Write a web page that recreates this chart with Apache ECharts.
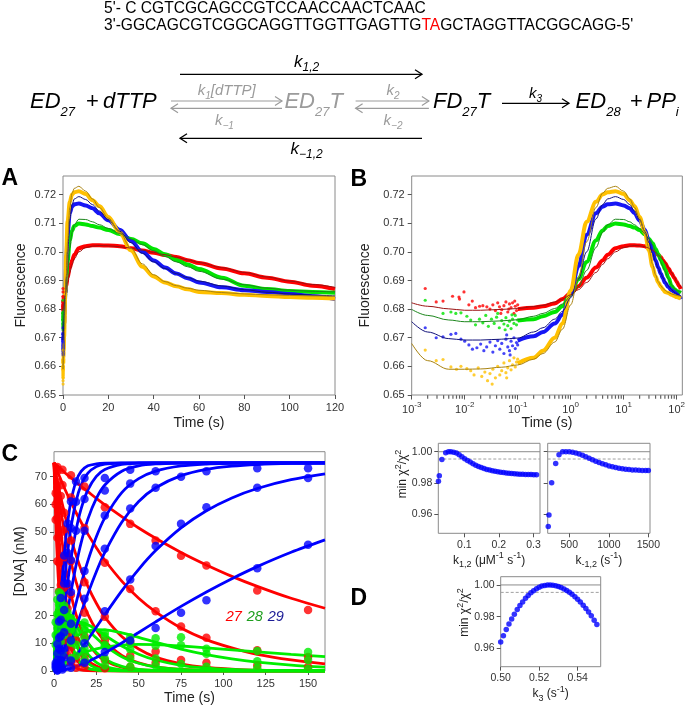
<!DOCTYPE html>
<html><head><meta charset="utf-8">
<script src="https://cdn.jsdelivr.net/npm/echarts@6/dist/echarts.min.js"></script>
<style>html,body{margin:0;padding:0;background:#fff}#c{width:688px;height:708px}</style>
</head><body><div id="c"></div>
<script>
// ---------------- Panel A / B data (fluorescence) ----------------
const flTime = [0.1,0.2,0.3,0.5,0.7,1,1.4,2,3,4,5,7,10,13,16,20,25,30,35,40,45,50,55,60,70,80,90,100,110,120];
const flRed    = [.680,.6805,.681,.682,.6835,.6855,.688,.691,.6945,.697,.699,.7013,.702,.7023,.7023,.7022,.702,.7013,.7005,.6997,.6989,.6982,.6971,.6961,.6942,.6925,.691,.6896,.6882,.687];
const flGreen  = [.676,.6765,.6775,.679,.681,.6855,.6905,.6965,.704,.7075,.709,.7099,.7096,.709,.7085,.7076,.7062,.7045,.703,.701,.6992,.6972,.6956,.694,.691,.6882,.687,.6863,.686,.6857];
const flBlue   = [.669,.6705,.672,.675,.678,.6855,.695,.706,.7135,.7158,.7166,.7169,.7162,.7152,.7135,.711,.7077,.7038,.700,.697,.6945,.6924,.6908,.6893,.6876,.6866,.686,.6853,.6845,.6835];
const flYellow = [.661,.663,.6655,.670,.675,.6865,.699,.7105,.7175,.720,.7208,.7212,.7202,.718,.716,.7122,.7068,.7005,.6948,.6914,.6893,.688,.6869,.686,.6856,.685,.6846,.6842,.684,.6837];

const fitTime = [0.001,0.002,0.005,0.01,0.02,0.05,0.1,0.2,0.3,0.5,0.7,1,1.4,2,3,4,5,7,10,13,16,20,25,30,35,40,45,50,55,60,70,80,90,100,110,120];
const fitRed    = [.6822,.681,.6801,.6796,.6796,.6799,.6802,.6809,.6813,.6825,.6835,.685,.6868,.6893,.6928,.6956,.6976,.700,.7015,.702,.7022,.7021,.7018,.7013,.7006,.6998,.699,.6981,.6972,.6963,.6945,.6928,.6912,.6898,.6886,.6876];
const fitGreen  = [.6799,.6778,.6762,.6756,.6756,.6759,.6763,.6775,.6785,.6802,.6818,.6845,.6878,.6935,.7015,.7068,.7095,.7114,.7113,.7105,.7095,.7082,.7064,.7045,.7025,.7004,.6984,.6965,.6948,.6932,.6905,.6885,.6873,.6866,.6862,.686];
const fitBlue   = [.6756,.672,.6697,.6692,.6692,.6695,.6699,.672,.6735,.6765,.6792,.684,.6905,.700,.7115,.7165,.7185,.7193,.7183,.7165,.7143,.7112,.7072,.7032,.6995,.6965,.6942,.6924,.691,.6898,.6881,.6868,.6859,.6853,.6849,.6846];
const fitYellow = [.668,.662,.659,.659,.6591,.6597,.6605,.6625,.6645,.6685,.673,.6815,.691,.7035,.7155,.7205,.7222,.7229,.7212,.7185,.7155,.7118,.7068,.7012,.6958,.692,.6896,.6882,.6873,.6866,.6858,.6853,.6850,.6848,.6846,.6845];

// early (t < 0.1 s) noisy readings [time, fluorescence]
const earlyRed = [[0.0018,.6872],[0.0029,.6825],[0.0039,.6828],[0.0059,.6845],[0.0078,.6842],[0.008,.6835],[0.0097,.686],[0.012,.6815],[0.0139,.6828],[0.016,.6805],[0.0191,.681],[0.022,.6812],[0.0262,.6808],[0.03,.68],[0.034,.6815],[0.038,.6795],[0.042,.6822],[0.0454,.6808],[0.048,.6785],[0.05,.6798],[0.055,.6812],[0.06,.6825],[0.065,.679],[0.068,.68],[0.07,.6818],[0.075,.6805],[0.08,.6822],[0.085,.6785],[0.088,.6828],[0.09,.681],[0.095,.6795],[0.1,.6815]];
const earlyGreen = [[0.0018,.6831],[0.0039,.6785],[0.0055,.679],[0.0068,.6785],[0.0085,.6787],[0.011,.6775],[0.013,.6762],[0.016,.6745],[0.019,.6765],[0.022,.6752],[0.025,.6778],[0.028,.674],[0.032,.6765],[0.036,.675],[0.04,.6772],[0.042,.6785],[0.045,.6735],[0.05,.676],[0.055,.6748],[0.058,.6728],[0.06,.677],[0.065,.6742],[0.07,.6758],[0.075,.6732],[0.078,.678],[0.08,.6765],[0.085,.675],[0.09,.6778],[0.095,.6745],[0.1,.6762]];
const earlyBlue = [[0.0018,.6735],[0.0029,.67],[0.0039,.6703],[0.0055,.6712],[0.0068,.6715],[0.0085,.6695],[0.01,.6688],[0.012,.6675],[0.014,.666],[0.017,.6665],[0.02,.6678],[0.023,.6655],[0.026,.6668],[0.03,.6685],[0.034,.665],[0.038,.6672],[0.042,.669],[0.046,.666],[0.05,.668],[0.055,.6645],[0.06,.6695],[0.062,.671],[0.065,.6668],[0.07,.6655],[0.072,.664],[0.075,.6688],[0.08,.6672],[0.085,.67],[0.09,.6662],[0.095,.6683],[0.1,.6675]];
const earlyYellow = [[0.0018,.6657],[0.0029,.662],[0.0039,.6624],[0.0055,.6598],[0.007,.659],[0.0085,.66],[0.011,.6592],[0.013,.6585],[0.015,.657],[0.018,.6595],[0.021,.6565],[0.024,.658],[0.027,.655],[0.03,.6575],[0.033,.6538],[0.034,.659],[0.038,.656],[0.042,.66],[0.046,.657],[0.05,.6585],[0.055,.6612],[0.06,.6578],[0.062,.656],[0.065,.6595],[0.07,.662],[0.075,.6588],[0.08,.6605],[0.085,.663],[0.09,.6598],[0.095,.6615],[0.1,.6625]];

const flTicks = [0.65,0.66,0.67,0.68,0.69,0.70,0.71,0.72];
const aTimeTicks = [0,20,40,60,80,100,120];
const bTimeTicks = [0.001,0.01,0.1,1,10,100];
const bTimeExp = ['-3','-2','-1','0','1','2'];
const bMinorTicks = [0.002,0.003,0.004,0.005,0.006,0.007,0.008,0.009,0.02,0.03,0.04,0.05,0.06,0.07,0.08,0.09,0.2,0.3,0.4,0.5,0.6,0.7,0.8,0.9,2,3,4,5,6,7,8,9,20,30,40,50,60,70,80,90];

// ---------------- Panel C data ([DNA] nM) ----------------
const cTime = [0,1,2,3,4,6,8,10,13,16,20,25,30,40,50,60,75,90,105,120,140,160];
const fit27 = [
 [75,74.4,73.9,73.3,72.8,71.7,70.6,69.6,68.0,66.5,64.6,62.2,59.9,55.6,51.5,47.8,42.7,38.2,34.1,30.5,26.2,22.6],
 [75,73.4,71.9,70.4,69.0,66.1,63.4,60.8,57.1,53.6,49.3,44.4,39.9,32.4,26.2,21.3,15.5,11.3,8.3,6.0,4.0,2.6],
 [75,71.7,68.5,65.5,62.6,57.3,52.3,47.8,41.8,36.5,30.5,24.4,19.4,12.4,7.9,5.0,2.6,1.3,0.7,0.3,0.1,0.1],
 [75,70.3,65.9,61.7,57.8,50.8,44.6,39.2,32.2,26.5,20.4,14.8,10.7,5.6,2.9,1.5,0.6,0.2,0.1,0,0,0],
 [75,67.9,61.4,55.6,50.3,41.2,33.7,27.6,20.4,15.1,10.1,6.2,3.7,1.4,0.5,0.2,0,0,0,0,0,0],
 [75,64.6,55.6,47.8,41.2,30.5,22.6,16.7,10.7,6.8,3.7,1.8,0.8,0.2,0,0,0,0,0,0,0,0],
 [75,60.2,48.3,38.8,31.1,20.0,12.9,8.3,4.3,2.2,0.9,0.3,0.1,0,0,0,0,0,0,0,0,0],
 [75,54.5,39.5,28.7,20.9,11.0,5.8,3.1,1.2,0.4,0.1,0,0,0,0,0,0,0,0,0,0,0]];
const fit28 = [
 [0,0.55,1.07,1.57,2.05,2.93,3.73,4.46,5.41,6.22,7.12,7.98,8.61,9.33,9.56,9.47,9.00,8.34,7.62,6.90,5.99,5.18],
 [0,1.51,2.91,4.18,5.36,7.43,9.15,10.57,12.22,13.39,14.37,14.88,14.83,13.77,12.12,10.35,7.91,5.92,4.38,3.22,2.13,1.40],
 [0,3.14,5.84,8.15,10.12,13.17,15.24,16.55,17.46,17.48,16.65,14.89,12.85,9.02,6.06,3.97,2.06,1.06,0.55,0.28,0.11,0.04],
 [0,4.42,8.03,10.94,13.24,16.40,18.08,18.71,18.38,17.14,14.87,11.86,9.15,5.16,2.80,1.48,0.56,0.22,0.08,0.03,0.01,0],
 [0,6.52,11.34,14.82,17.20,19.61,19.91,18.99,16.52,13.67,10.13,6.66,4.25,1.65,0.62,0.23,0.06,0.01,0,0,0,0],
 [0,9.35,15.56,19.40,21.54,22.42,20.76,18.05,13.66,9.82,6.03,3.12,1.56,0.37,0.10,0.02,0,0,0,0,0,0],
 [0,12.95,20.42,24.13,25.29,23.51,19.43,15.06,9.61,5.78,2.81,1.07,0.41,0.08,0,0,0,0,0,0,0,0],
 [0,17.64,25.80,28.44,27.84,22.44,16.08,10.80,5.52,2.64,0.96,0.36,0.12,0,0,0,0,0,0,0,0,0]];
const fit29 = [
 [0,0.01,0.05,0.09,0.17,0.37,0.64,0.96,1.56,2.26,3.33,4.85,6.50,10.11,13.89,17.71,23.27,28.47,33.26,37.61,42.77,47.23],
 [0,0.05,0.17,0.40,0.69,1.45,2.45,3.63,5.70,8.02,11.36,15.75,20.23,28.85,36.64,43.37,51.57,57.75,62.35,65.74,68.90,71.00],
 [0,0.16,0.62,1.32,2.23,4.58,7.43,10.63,15.76,21.01,27.86,35.76,42.71,53.58,61.04,65.99,70.38,72.64,73.78,74.38,74.76,74.91],
 [0,0.30,1.11,2.36,3.93,7.82,12.33,17.14,24.40,31.35,39.69,48.37,55.17,64.27,69.29,72.00,73.86,74.57,74.83,74.94,74.98,75.00],
 [0,0.62,2.26,4.62,7.53,14.23,21.39,28.42,38.04,46.19,54.72,62.18,67.02,71.98,73.88,74.58,74.90,74.99,75,75,75,75],
 [0,1.10,3.88,7.78,12.30,22.09,31.65,40.22,50.67,58.38,65.24,70.12,72.61,74.44,74.86,74.97,75,75,75,75,75,75],
 [0,1.86,6.28,12.10,18.60,31.46,42.67,51.63,61.09,67.00,71.27,73.62,74.49,74.91,75,75,75,75,75,75,75,75],
 [0,2.90,9.65,17.84,26.31,41.57,53.12,61.14,68.31,71.91,73.91,74.62,74.88,75,75,75,75,75,75,75,75,75]];
const dotTime = [
 [2,5,10,18,30,45,60,75,90,120,150],
 [2,5,10,18,30,45,60,75,90,120,150],
 [2,4,6,10,18,30,45,60,75,90,120,150],
 [2,4,6,10,18,30,45,60],
 [2,4,6,10,18,30,45],
 [1,2,3,4,6,8,10,13,18,30],
 [1,2,3,4,6,8,10,13,18],
 [1,2,3,4,6,8,10,13]];
const dot27 = [
 [73.5,72.5,70.5,66.5,59,53,47,41.5,38,29,22],
 [72,67,62.5,51.5,39,29.5,21.5,16,12,7.5,5],
 [68,63,57,47,32,19.5,10.5,7,4,3,2,1.5],
 [66,58,51,39.5,21,11,5.5,3],
 [61,50,41,27.5,12.5,4,1.5],
 [64,55,48,41,30,22.5,17,11,5,1],
 [60,48,39,31,20,13,8.5,4.5,1.5],
 [54.5,39.5,28.7,20.9,11,5.8,3.1,1.2]];
const dot28 = [
 [1.0,2.6,4.6,6.5,8.9,9.8,9.1,9.3,8.0,7.2,6.8],
 [2.8,6.5,10.2,14.5,13.8,12.2,11.8,12.2,6.2,3.5,4.0],
 [5.5,10.5,13,16,17.5,12.5,7.8,4.5,2.5,1.5,1,0.8],
 [8,13.5,16.5,19,16,9.5,4.5,2],
 [11.5,17,20,19,12,4.5,1.5],
 [9.5,15.5,19.5,21.5,22.5,21,18,14,8,2],
 [13,20.5,24,25.5,23.5,19.5,15,9.5,4],
 [17.6,25.8,28.4,27.8,22.4,16.1,10.8,5.5]];
const dot29 = [
 [0.2,0.5,1.2,3,6.8,11,15.5,21,25.5,37,45.5],
 [0.3,1.2,3.8,10,21.5,33,45,53,59,66,69.5],
 [0.8,2.5,5,11,26,44,58.5,66,70,72,73,73],
 [1.2,4,8,17,36,56,67.5,72],
 [2.5,7.5,14,28.5,50.5,65,72.5],
 [1.2,4,8,12.5,22,31.5,40,50.5,62,69.5],
 [2,6.3,12,18.5,31.5,42.5,51.5,61,69.5],
 [2.9,9.7,17.8,26.3,41.6,53.1,61.1,68.3]];
const cTimeTicks = [0,25,50,75,100,125,150];
const cDnaTicks = [0,10,20,30,40,50,60,70];
const speciesLabels = ['27','28','29'];

// ---------------- Panel D data (min chi2 / chi2) ----------------
const k12 = [0.025,0.0275,0.035,0.046,0.054,0.061,0.069,0.077,0.085,0.093,0.101,0.109,0.117,0.125,0.133,0.141,0.149,0.157,0.165,0.173,0.181,0.189,0.197,0.205,0.213,0.221,0.229,0.237,0.245,0.253,0.261,0.269,0.277,0.285,0.293,0.301,0.309];
const chiK12 = [.981,.9846,.995,.9994,1.0,1.0,.9997,.9991,.998,.9967,.9955,.9944,.9934,.9922,.9913,.9905,.9898,.9892,.9886,.9882,.9878,.9874,.9871,.9868,.9866,.9864,.9862,.986,.9859,.9857,.9856,.9855,.9854,.9853,.9853,.9852,.9852];
const km12 = [234,243,277,328,370,416,457,499,541,583,625,667,709,751,793,835,877,919,961,1003,1045,1087,1129,1171,1213,1255,1297,1339,1381,1423,1465,1500];
const chiKm12 = [.9519,.9594,.98,.9925,.998,1.0,1.0,.9999,.9996,.9991,.9985,.9977,.9967,.9958,.9948,.9939,.9931,.9923,.9916,.9909,.9903,.9898,.9894,.989,.9887,.9885,.9883,.9882,.9881,.988,.988,.9879];
const k3 = [.5,.5014,.5029,.5043,.5057,.5071,.5086,.51,.5114,.5129,.5143,.5157,.5171,.5186,.52,.5214,.5229,.5243,.5257,.5271,.5286,.53,.5314,.5329,.5343,.5357,.5371,.5386,.54,.5414,.5429,.5443,.5457,.5471,.5486,.55];
const chiK3 = [.964,.9679,.9719,.9753,.9785,.9815,.9845,.987,.9893,.9916,.9934,.995,.9964,.9976,.9986,.9993,.9997,1.0,1.0,.9998,.9995,.999,.9984,.9975,.9965,.9954,.9941,.9926,.991,.9892,.9872,.9851,.9829,.9805,.9777,.975];
const chiBest = 1.0;
const chiThreshold = 0.9953;
const chiTicks = [0.96,0.98,1.00];
const k12Ticks = [0.1,0.2,0.3];
const km12Ticks = [500,1000,1500];
const k3Ticks = [0.50,0.52,0.54];
// axis extents of the three D panels [xmin, xmax]
const dRanges = [[0.0246,0.319],[227,1521],[0.5,0.552]];

// ---------------- styling ----------------
const FONT = "'Liberation Sans', Arial, sans-serif";
const C = {red:'#ff0000', green:'#00e400', blue:'#1616f5', gold:'#ffc000',
           redF:'#9a1212', greenF:'#1d861d', blueF:'#12127a', goldF:'#a88210'};
const CC = {red:'#ff0000', green:'#00ee00', blue:'#0000ff'};

const chart = echarts.init(document.getElementById('c'), null, {renderer:'canvas'});

function pairs(xs, ys){ return xs.map((x,i)=>[x, ys[i]]); }

function axis(o){
  const fs = o.fs || 11;
  const a = {
    type: o.type || 'value', gridIndex: o.grid, min: o.min, max: o.max,
    axisLine: {show:false}, splitLine: {show:false},
    axisTick: {show: o.ticksShow !== false, length: o.tickLen || 4, lineStyle:{color:'#555', width:1}},
    axisLabel: {show: o.labels !== false, color:'#333', fontFamily: FONT, fontSize: fs, margin: o.margin || 6},
    name: o.name || '', nameLocation:'middle', nameGap: o.gap || 20,
    nameTextStyle: Object.assign({fontFamily: FONT, fontSize: o.nfs || 14, color:'#222'}, o.nts || {})
  };
  if (o.ticks && o.ticks.length) { a.axisTick.customValues = o.ticks; a.axisLabel.customValues = o.ticks; }
  if (o.fmt) a.axisLabel.formatter = o.fmt;
  if (o.rich) a.axisLabel.rich = o.rich;
  if (o.logBase) a.logBase = o.logBase;
  return a;
}
const f2 = v => Number(v).toFixed(2);
const plain = v => String(v);
const subSupRich = {
  sub:{fontSize:9, fontFamily:FONT, color:'#222', verticalAlign:'bottom'},
  sup:{fontSize:9, fontFamily:FONT, color:'#222', verticalAlign:'top'}
};

const grids = [
  {left:63, top:176, width:272, height:219},
  {left:411.7, top:176, width:272.3, height:219},
  {left:54, top:451.7, width:271, height:219.3},
  {left:438.3, top:443.3, width:101.7, height:90},
  {left:547.7, top:443.3, width:102.3, height:90},
  {left:500.7, top:576.7, width:100, height:90}
].map(g => Object.assign({show:true, borderColor:'#8a8a8a', borderWidth:1, backgroundColor:'transparent', containLabel:false}, g));

const xAxes = [
  axis({grid:0, min:0, max:120, ticks:aTimeTicks, name:'Time (s)', gap:21, margin:7}),
  axis({grid:1, type:'log', logBase:10, min:0.001, max:128, ticks:bTimeTicks, tickLen:4.5, name:'Time (s)', gap:21, margin:6,
        fmt: v => { let i = bTimeTicks.findIndex(t => Math.abs(t - v) <= t*1e-6); return i < 0 ? '' : '{b|10}{s|' + bTimeExp[i] + '}'; },
        rich:{b:{fontSize:11, fontFamily:FONT, color:'#333', lineHeight:18}, s:{fontSize:8, fontFamily:FONT, color:'#333', verticalAlign:'top'}}}),
  axis({grid:2, min:0, max:160, ticks:cTimeTicks, name:'Time (s)', gap:20, margin:7}),
  axis({grid:3, min:dRanges[0][0], max:dRanges[0][1], ticks:k12Ticks, fs:10.5, margin:6, fmt:plain, gap:16, nfs:12,
        name:'k{sub|1,2} (μM{sup|-1} s{sup|-1})', nts:{lineHeight:18, rich:subSupRich}}),
  axis({grid:4, min:dRanges[1][0], max:dRanges[1][1], ticks:km12Ticks, fs:10.5, margin:6, fmt:plain, gap:16, nfs:12,
        name:'k{sub|-1,2} (s{sup|-1})', nts:{lineHeight:18, rich:subSupRich}}),
  axis({grid:5, min:dRanges[2][0], max:dRanges[2][1], ticks:k3Ticks, fs:10.5, margin:6, fmt:f2, gap:18, nfs:12,
        name:'k{sub|3} (s{sup|-1})', nts:{lineHeight:18, rich:subSupRich}})
];
const yAxes = [
  axis({grid:0, min:0.65, max:0.7265, ticks:flTicks, fmt:f2, name:'Fluorescence', gap:35, margin:7}),
  axis({grid:1, min:0.65, max:0.7265, ticks:flTicks, fmt:f2, name:'Fluorescence', gap:40, margin:7}),
  axis({grid:2, min:0, max:79, ticks:cDnaTicks, name:'[DNA] (nM)', gap:27, margin:7}),
  axis({grid:3, min:0.9476, max:1.0054, ticks:chiTicks, fmt:f2, fs:10.5, margin:6}),
  axis({grid:4, min:0.9476, max:1.0054, ticks:chiTicks, labels:false}),
  axis({grid:5, min:0.9484, max:1.0052, ticks:chiTicks, fmt:f2, fs:10.5, margin:6})
];

const series = [];
// Panel A (x0,y0) and B (x1,y1)
const flSets = [
  {early:earlyRed, data:flRed, fit:fitRed, c:C.red, f:C.redF},
  {early:earlyGreen, data:flGreen, fit:fitGreen, c:C.green, f:C.greenF},
  {early:earlyBlue, data:flBlue, fit:fitBlue, c:C.blue, f:C.blueF},
  {early:earlyYellow, data:flYellow, fit:fitYellow, c:C.gold, f:C.goldF}
];
[[0,0],[1,1]].forEach(([xi, yi]) => {
  flSets.forEach(s => {
    series.push({type:'scatter', xAxisIndex:xi, yAxisIndex:yi, data:s.early, symbolSize:3.2, itemStyle:{color:s.c}, silent:true, z:2});
    series.push({type:'line', xAxisIndex:xi, yAxisIndex:yi, data:pairs(flTime, s.data), showSymbol:false, smooth:0.35, smoothMonotone:'x',
                 lineStyle:{color:s.c, width:4}, silent:true, z:2});
  });
  flSets.forEach(s => {
    series.push({type:'line', xAxisIndex:xi, yAxisIndex:yi, data:pairs(fitTime, s.fit), showSymbol:false, smooth:0.35, smoothMonotone:'x',
                 lineStyle:{color:s.f, width:1}, silent:true, z:3});
  });
});
// B: minor log ticks, small marks hanging below the axis at each minor tick value
series.push({type:'scatter', xAxisIndex:1, yAxisIndex:1, data:bMinorTicks.map(t => [t, 0.65]), symbol:'rect', symbolSize:[1.2, 3.5],
  symbolOffset:[0, 2], itemStyle:{color:'#3a3a3a'}, clip:false, silent:true, z:5});

// Panel C (x2,y2)
const cSets = [[fit27, dot27, CC.red], [fit28, dot28, CC.green], [fit29, dot29, CC.blue]];
cSets.forEach(([fits, dots, col]) => {
  fits.forEach(arr => series.push({type:'line', xAxisIndex:2, yAxisIndex:2, data:pairs(cTime, arr), showSymbol:false,
    smooth:0.3, lineStyle:{color:col, width:2.8}, silent:true, z:2}));
});
cSets.forEach(([fits, dots, col]) => {
  dots.forEach((arr, i) => series.push({type:'scatter', xAxisIndex:2, yAxisIndex:2, data:pairs(dotTime[i], arr),
    symbolSize:8.5, itemStyle:{color:col}, silent:true, z:3}));
});
// Panel D: reference lines (best fit = 1, dashed threshold) across each axis range, then the points
[[3,3,k12,chiK12,0],[4,4,km12,chiKm12,1],[5,5,k3,chiK3,2]].forEach(([xi, yi, xs, ys, r]) => {
  series.push({type:'line', xAxisIndex:xi, yAxisIndex:yi, data:dRanges[r].map(x => [x, chiBest]), showSymbol:false,
    lineStyle:{color:'#8c8c8c', width:1}, silent:true, z:1});
  series.push({type:'line', xAxisIndex:xi, yAxisIndex:yi, data:dRanges[r].map(x => [x, chiThreshold]), showSymbol:false,
    lineStyle:{color:'#a0a0a0', width:1, type:[3,2]}, silent:true, z:1});
  series.push({type:'scatter', xAxisIndex:xi, yAxisIndex:yi, data:pairs(xs, ys), symbolSize:5.5, itemStyle:{color:'#0000ff'}, silent:true, z:3});
});

// ---------------- graphic annotations (scheme, panel letters) ----------------
const G = [];
function txt(x, y, text, style){ G.push({type:'text', x, y, silent:true, z:10,
  style: Object.assign({text, fill:'#000', fontFamily:FONT, fontSize:15, align:'left', verticalAlign:'middle'}, style || {})}); }
function arrow(x1, x2, y, color, lw, dir){
  G.push({type:'line', silent:true, shape:{x1, y1:y, x2, y2:y}, style:{stroke:color, lineWidth:lw}});
  const hx = dir > 0 ? x2 : x1, s = dir > 0 ? -1 : 1;
  G.push({type:'polyline', silent:true, shape:{points:[[hx + s*7, y-4.5],[hx, y],[hx + s*7, y+4.5]]}, style:{stroke:color, lineWidth:lw, fill:null}});
}
// sequence
txt(104, 9, "5'- C CGTCGCAGCCGTCCAACCAACTCAAC", {fontSize:15.6});
txt(104, 26, "{n|3'-GGCAGCGTCGGCAGGTTGGTTGAGTTG}{r|TA}{n|GCTAGGTTACGGCAGG-5'}", {fontSize:15.6,
  rich:{n:{fontSize:15.6, fontFamily:FONT, fill:'#000'}, r:{fontSize:15.6, fontFamily:FONT, fill:'#ff0000'}}});
// scheme
const schemeRich = c => ({m:{fontSize:22, fontStyle:'italic', fontFamily:FONT, fill:c, lineHeight:22},
                          s:{fontSize:13, fontStyle:'italic', fontFamily:FONT, fill:c, lineHeight:33, verticalAlign:'bottom'}});
const GRAY = '#9b9b9b';
txt(30, 102.3, '{m|ED}{s|27}', {rich:schemeRich('#000')});
txt(86, 102.3, '+', {fontSize:22, fill:'#000'});
txt(103, 102.3, '{m|dTTP}', {rich:schemeRich('#000')});
txt(284.4, 102.3, '{m|ED}{s|27}{m|T}', {rich:schemeRich(GRAY)});
txt(433, 102.3, '{m|FD}{s|27}{m|T}', {rich:schemeRich('#000')});
txt(575.6, 102.3, '{m|ED}{s|28}', {rich:schemeRich('#000')});
txt(630, 102.3, '+', {fontSize:22, fill:'#000'});
txt(646.5, 102.3, '{m|PP}{s|i}', {rich:schemeRich('#000')});
const kRich = (c, fs) => ({k:{fontSize:fs, fontStyle:'italic', fontFamily:FONT, fill:c, lineHeight:fs},
                           s:{fontSize:Math.round(fs*0.68), fontStyle:'italic', fontFamily:FONT, fill:c, lineHeight:Math.round(fs*1.35), verticalAlign:'bottom'}});
arrow(180, 422, 74.3, '#000', 1.3, 1);
txt(306.7, 62, '{k|k}{s|1,2}', {align:'center', rich:kRich('#000', 17)});
arrow(180, 422, 138.3, '#000', 1.3, -1);
txt(306.7, 149, '{k|k}{s|−1,2}', {align:'center', rich:kRich('#000', 17)});
arrow(171, 282, 101, GRAY, 1.2, 1);
arrow(171, 282, 108.3, GRAY, 1.2, -1);
txt(226.7, 91, '{k|k}{s|1}{k|[dTTP]}', {align:'center', rich:kRich(GRAY, 15)});
txt(224.4, 121, '{k|k}{s|−1}', {align:'center', rich:kRich(GRAY, 15)});
arrow(355.6, 428.9, 101, GRAY, 1.2, 1);
arrow(355.6, 428.9, 108.3, GRAY, 1.2, -1);
txt(393, 91, '{k|k}{s|2}', {align:'center', rich:kRich(GRAY, 15)});
txt(393, 121, '{k|k}{s|−2}', {align:'center', rich:kRich(GRAY, 15)});
arrow(502, 569, 103.3, '#000', 1.3, 1);
txt(535.6, 94, '{k|k}{s|3}', {align:'center', rich:kRich('#000', 15)});
// panel letters
[['A',1.5,167],['B',350.5,168],['C',1.5,443],['D',350.5,587]].forEach(([t,x,y]) =>
  txt(x, y, t, {fontSize:23, fontWeight:'bold', verticalAlign:'top'}));
// panel C species labels
[[233.7, C.red], [254.8, '#1e9e1e'], [275.8, '#1c1c96']].forEach(([x, col], i) =>
  txt(x, 616.7, speciesLabels[i], {align:'center', fontSize:14.5, fontStyle:'italic', fill:col}));
// panel D y-axis titles
const chiRich = {b:{fontSize:12, fontFamily:FONT, fill:'#222', lineHeight:18}, p:{fontSize:9, fontFamily:FONT, fill:'#222', verticalAlign:'top'}};
G.push({type:'text', x:403, y:474, rotation:Math.PI/2, silent:true, style:{text:'{b|min χ}{p|2}{b|/χ}{p|2}', rich:chiRich, align:'center', verticalAlign:'middle'}});
G.push({type:'text', x:465, y:612.5, rotation:Math.PI/2, silent:true, style:{text:'{b|min χ}{p|2}{b|/χ}{p|2}', rich:chiRich, align:'center', verticalAlign:'middle'}});

chart.setOption({
  animation:false, backgroundColor:'#fff',
  grid:grids, xAxis:xAxes, yAxis:yAxes, series, graphic:G
});
</script></body></html>
